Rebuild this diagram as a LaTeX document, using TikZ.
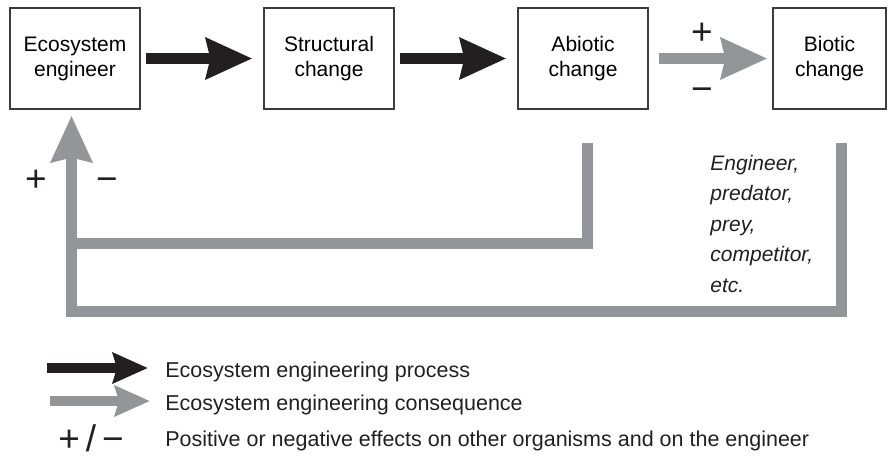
\documentclass[tikz,border=0pt]{standalone}
\usepackage{fontspec}
\setmainfont{Liberation Sans}
\usepackage{xcolor}
\usepackage{tikz}
\usetikzlibrary{arrows.meta}
\definecolor{procblack}{RGB}{35,31,32}
\definecolor{conseqgray}{RGB}{147,149,152}
\definecolor{boxgray}{RGB}{60,60,60}
\newcommand{\boxfont}{\fontsize{10.5}{12.5}\selectfont}
\newcommand{\keyfont}{\fontsize{10.75}{12.5}\selectfont}
\newcommand{\listfont}{\fontsize{10.5}{15.3}\selectfont\itshape}
\newcommand{\signfont}{\fontsize{18.5}{20}\selectfont}
\tikzstyle{stage} = [rectangle, draw=boxgray, line width=0.6pt, text centered, align=center,
    font=\boxfont, inner sep=0pt, minimum width=65pt, minimum height=50.5pt]
\tikzstyle{process} = [draw=procblack, line width=5.5pt, -{Stealth[length=23pt,width=20pt,inset=2pt]},
    shorten <=2.5pt, shorten >=5.5pt]
\tikzstyle{conseq} = [draw=conseqgray, line width=5.5pt, -{Stealth[length=23pt,width=20pt,inset=2pt]},
    shorten <=5pt, shorten >=2.5pt]
\tikzstyle{loopline} = [draw=conseqgray, line width=5.5pt]
\tikzstyle{sign} = [font=\signfont, text=procblack, inner sep=0pt, anchor=base]
\tikzstyle{keytext} = [font=\keyfont, text=procblack, inner sep=0pt, anchor=base west]
\tikzstyle{keyproc} = [draw=procblack, line width=5pt, -{Stealth[length=17.5pt,width=15pt,inset=2pt]}]
\tikzstyle{keyconseq} = [draw=conseqgray, line width=5pt, -{Stealth[length=17.5pt,width=15pt,inset=2pt]}]

\begin{document}
\begin{tikzpicture}[x=0.5pt, y=-0.5pt, node distance=127pt]
    \useasboundingbox (0,0) rectangle (888,457);
    % Place nodes
    \node [stage] (eng) at (75,58.5) {Ecosystem\\engineer};
    \node [stage, right of=eng] (struct) {Structural\\change};
    \node [stage, right of=struct] (abi) {Abiotic\\change};
    \node [stage, right of=abi, node distance=123.25pt, minimum width=56.5pt] (bio) {Biotic\\change};
    \node [font=\listfont, text=procblack, align=left, inner sep=0pt, anchor=north west] (others) at (710,154.5)
        {Engineer,\\predator,\\prey,\\competitor,\\etc.};
    \coordinate (abiout) at (587,143);
    \coordinate (bioout) at (841,143);
    \coordinate (midfoot) at (71.5,243);
    \coordinate (upfoot) at (71.5,311);

    % Draw edges
    \path [process] (eng) -- (struct);
    \path [process] (struct) -- (abi);
    \path [conseq] (abi) -- (bio);
    \path [conseq, shorten <=0pt, shorten >=3pt] (bioout) |- (upfoot) -- (upfoot |- eng.south);
    \path [loopline] (abiout) |- (midfoot);

    % Signs
    \node [sign] (topplus) at (702,44) {+};
    \node [sign] (topminus) at (702,101) {−};
    \node [sign] (leftplus) at (36,191) {+};
    \node [sign] (leftminus) at (107,191) {−};

    % Key
    \node [keytext] (k1) at (165,377) {Ecosystem engineering process};
    \node [keytext] (k2) at (165,410) {Ecosystem engineering consequence};
    \node [keytext] (k3) at (165,446) {Positive or negative effects on other organisms and on the engineer};
    \node [sign] (k3sign) at (91,451) {+\hspace{3pt}/\hspace{3pt}−};
    \coordinate (key1) at (47,368);
    \coordinate (key2) at (50,401);
    \path [keyproc, shorten >=8.5pt] (key1) -- (key1 -| k1.west);
    \path [keyconseq, shorten >=7.5pt] (key2) -- (key2 -| k2.west);
\end{tikzpicture}
\end{document}
